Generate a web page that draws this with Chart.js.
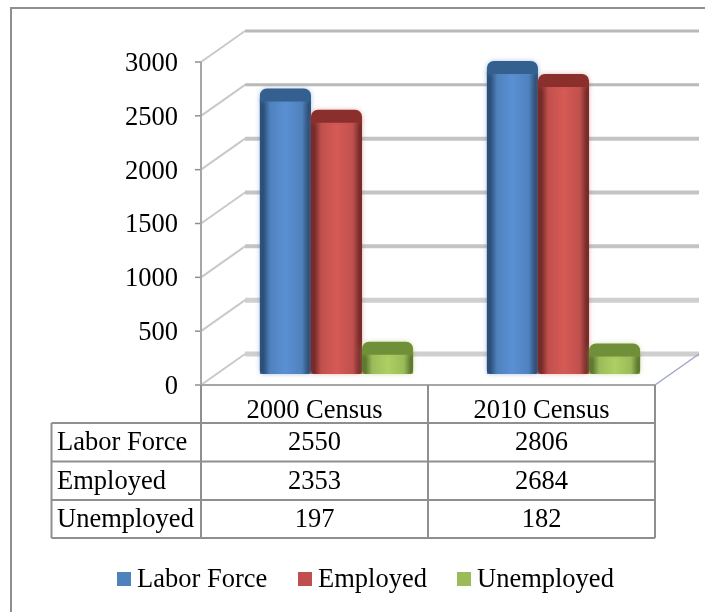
<!DOCTYPE html>
<html lang="en">
<head>
    <meta charset="UTF-8">
    <title>Labor Force Census</title>
    <script src="https://cdn.jsdelivr.net/npm/chart.js"></script>
    <style>
        html, body { margin: 0; padding: 0; background: #fff; overflow: hidden; }
        #wrap { width: 705px; height: 612px; }
    </style>
</head>
<body>
    <div id="wrap"><canvas id="censusChart" width="705" height="612"></canvas></div>

    <script>
        const categories = ['2000 Census', '2010 Census'];
        const seriesNames = ['Labor Force', 'Employed', 'Unemployed'];
        const laborForce = [2550, 2806];
        const employed = [2353, 2684];
        const unemployed = [197, 182];
        const seriesValues = [laborForce, employed, unemployed];
        const yTicks = [0, 500, 1000, 1500, 2000, 2500, 3000];

        const seriesColors = ['#4f81bd', '#c0504d', '#9bbb59'];
        const darkColors = ['#2d5079', '#772c2a', '#5f7a30'];
        const capColors = ['#33608f', '#8a2f2c', '#6f8f38'];
        const lightColors = ['#5a90d4', '#d65a55', '#aecf63'];
        const haloColors = ['rgba(79,129,189,0.45)', 'rgba(192,80,77,0.4)', 'rgba(155,187,89,0.45)'];

        const FONT = '"Liberation Serif", "Times New Roman", serif';
        const TEXT = '#000';
        const depthX = 44, depthY = 31;      // back wall offset
        const barShiftX = 22, barShiftY = 11; // bars stand in the middle of the floor

        // back wall, side wall and floor lines, all from the y scale
        const wallPlugin = {
            id: 'wall',
            beforeDatasetsDraw(chart) {
                const { ctx, chartArea: a, scales: { y } } = chart;
                ctx.save();
                // outer frame, only top and left show in the picture
                ctx.strokeStyle = '#8f8f8f';
                ctx.lineWidth = 2;
                ctx.beginPath();
                ctx.moveTo(705, 8);
                ctx.lineTo(11, 8);
                ctx.lineTo(11, 612);
                ctx.stroke();

                yTicks.forEach((t, i) => {
                    const py = y.getPixelForValue(t);
                    // back gridline, thicker toward the floor
                    ctx.strokeStyle = i < 2 ? '#cfcfcf' : (i < 5 ? '#c4c4c4' : '#b9b9b9');
                    ctx.lineWidth = i < 2 ? 5 : (i < 5 ? 4 : 3);
                    ctx.beginPath();
                    ctx.moveTo(a.left + depthX, py - depthY);
                    ctx.lineTo(a.right + depthX, py - depthY);
                    ctx.stroke();
                    // diagonal on the side wall
                    ctx.strokeStyle = '#c9c9c9';
                    ctx.lineWidth = 2;
                    ctx.beginPath();
                    ctx.moveTo(a.left, py);
                    ctx.lineTo(a.left + depthX, py - depthY);
                    ctx.stroke();
                    // tick mark
                    ctx.strokeStyle = '#8f8f8f';
                    ctx.lineWidth = 1.5;
                    ctx.beginPath();
                    ctx.moveTo(a.left - 6, py);
                    ctx.lineTo(a.left, py);
                    ctx.stroke();
                });

                // front axis lines
                ctx.strokeStyle = '#a6a6a6';
                ctx.lineWidth = 2;
                ctx.beginPath();
                ctx.moveTo(a.left, y.getPixelForValue(3000));
                ctx.lineTo(a.left, a.bottom);
                ctx.lineTo(a.right, a.bottom);
                ctx.stroke();
                // floor right edge
                ctx.strokeStyle = '#9ea6c4';
                ctx.lineWidth = 1.5;
                ctx.beginPath();
                ctx.moveTo(a.right, a.bottom);
                ctx.lineTo(a.right + depthX, a.bottom - depthY);
                ctx.stroke();
                ctx.restore();

                // datasets get pushed back onto the floor
                ctx.save();
                ctx.translate(barShiftX, -barShiftY);
            },
            afterDatasetsDraw(chart) {
                const { ctx } = chart;
                // round the bars off so they read as cylinders
                chart.data.datasets.forEach((ds, s) => {
                    chart.getDatasetMeta(s).data.forEach(bar => {
                        const left = bar.x - bar.width / 2, right = bar.x + bar.width / 2;
                        const g = ctx.createLinearGradient(left, 0, right, 0);
                        g.addColorStop(0, darkColors[s]);
                        g.addColorStop(0.07, darkColors[s]);
                        g.addColorStop(0.2, seriesColors[s]);
                        g.addColorStop(0.5, lightColors[s]);
                        g.addColorStop(0.82, seriesColors[s]);
                        g.addColorStop(0.95, darkColors[s]);
                        g.addColorStop(1, darkColors[s]);
                        ctx.save();
                        ctx.shadowColor = haloColors[s];
                        ctx.shadowBlur = 5;
                        ctx.fillStyle = g;
                        ctx.beginPath();
                        ctx.roundRect(left, bar.y, bar.width, bar.base - bar.y, [0, 0, 4, 4]);
                        ctx.fill();
                        // top cap
                        ctx.fillStyle = capColors[s];
                        ctx.beginPath();
                        ctx.roundRect(left, bar.y - 11, bar.width, 13, [7, 7, 0, 0]);
                        ctx.fill();
                        ctx.restore();
                    });
                });
                ctx.restore();
            }
        };

        // data table under the plot, plus the legend
        const tablePlugin = {
            id: 'dataTable',
            afterDraw(chart) {
                const { ctx, chartArea: a, scales: { x } } = chart;
                const rowTops = [423, 461.5, 500, 538];
                const tableLeft = 51.5;
                const mid = x.getPixelForValue(0) + (x.getPixelForValue(1) - x.getPixelForValue(0)) / 2;
                ctx.save();
                ctx.strokeStyle = '#8f8f8f';
                ctx.lineWidth = 2;
                ctx.beginPath();
                rowTops.forEach(ry => { ctx.moveTo(tableLeft, ry); ctx.lineTo(a.right, ry); });
                ctx.moveTo(tableLeft, rowTops[0]); ctx.lineTo(tableLeft, rowTops[3]);
                [a.left, mid, a.right].forEach(vx => { ctx.moveTo(vx, a.bottom); ctx.lineTo(vx, rowTops[3]); });
                ctx.stroke();

                ctx.font = '26.5px ' + FONT;
                ctx.fillStyle = TEXT;
                ctx.textBaseline = 'middle';
                seriesNames.forEach((name, r) => {
                    const ry = (rowTops[r] + rowTops[r + 1]) / 2 + 1;
                    ctx.textAlign = 'left';
                    ctx.fillText(name, 57, ry);
                    ctx.textAlign = 'center';
                    seriesValues[r].forEach((v, c) => ctx.fillText(String(v), x.getPixelForValue(c), ry));
                });

                // legend
                const legendX = [117, 298, 457];
                seriesNames.forEach((name, i) => {
                    ctx.fillStyle = seriesColors[i];
                    ctx.fillRect(legendX[i], 572, 14, 14);
                    ctx.fillStyle = TEXT;
                    ctx.textAlign = 'left';
                    ctx.fillText(name, legendX[i] + 20, 580);
                });
                ctx.restore();
            }
        };

        new Chart(document.getElementById('censusChart'), {
            type: 'bar',
            data: {
                labels: categories,
                datasets: seriesNames.map((name, i) => ({
                    label: name,
                    data: seriesValues[i],
                    backgroundColor: seriesColors[i],
                    clip: false
                }))
            },
            plugins: [wallPlugin, tablePlugin],
            options: {
                responsive: false,
                animation: false,
                layout: { padding: { left: 0, top: 62, right: 50, bottom: 0 } },
                datasets: { bar: { barPercentage: 1, categoryPercentage: 0.675 } },
                plugins: { legend: { display: false }, tooltip: { enabled: false } },
                scales: {
                    x: {
                        afterFit(scale) { scale.height = 227; },
                        grid: { display: false, drawTicks: false },
                        border: { display: false },
                        ticks: { color: TEXT, padding: 10, font: { family: FONT, size: 26.5 } }
                    },
                    y: {
                        min: 0,
                        max: 3000,
                        afterFit(scale) { scale.width = 201; },
                        afterBuildTicks(scale) { scale.ticks = yTicks.map(v => ({ value: v })); },
                        grid: { display: false, drawTicks: false },
                        border: { display: false },
                        ticks: {
                            color: TEXT,
                            padding: 23,
                            labelOffset: 2,
                            font: { family: FONT, size: 26.5 },
                            callback: v => String(v)
                        }
                    }
                }
            }
        });
    </script>
</body>
</html>
